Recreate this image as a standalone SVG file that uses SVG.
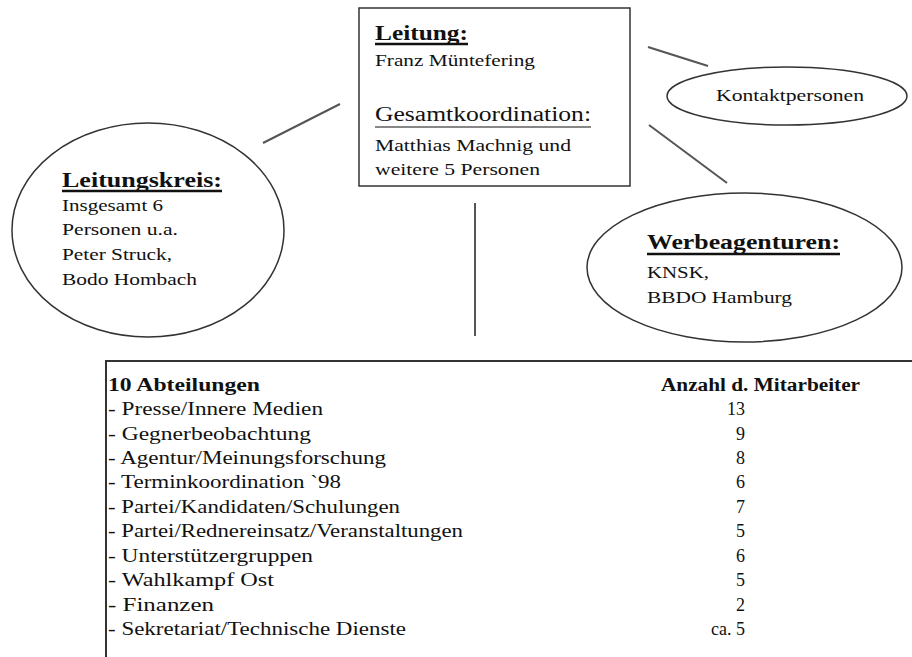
<svg xmlns="http://www.w3.org/2000/svg" width="912" height="657" viewBox="0 0 912 657">
<style>
text{font-family:"Liberation Serif","Times New Roman",serif;fill:#111}
.h{font-weight:bold;font-size:20px}
.t{font-size:17px}
.g{font-size:20px}
.r{font-size:18px}
.rb{font-size:18px;font-weight:bold}
.n{font-size:18px;text-anchor:end}
.shape{fill:#fff;stroke:#333;stroke-width:1.5}
.conn{stroke:#555;stroke-width:2;fill:none}
.ul{stroke:#111;stroke-width:2.5}
.ul1{stroke:#111;stroke-width:1.2}
</style>
<rect width="912" height="657" fill="#fff"/>
<g id="connectors">
<line class="conn" x1="263" y1="143" x2="340" y2="104"/>
<line class="conn" x1="648" y1="47" x2="708" y2="66"/>
<line class="conn" x1="649" y1="125" x2="727" y2="183"/>
<line class="conn" x1="475" y1="203" x2="475" y2="336"/>
</g>
<g id="leitung">
<rect class="shape" x="359" y="8" width="271" height="178"/>
<text class="h" x="375" y="40" textLength="93" lengthAdjust="spacingAndGlyphs">Leitung:</text>
<line class="ul" x1="375" y1="44" x2="468" y2="44"/>
<text class="t" x="375" y="66" textLength="160" lengthAdjust="spacingAndGlyphs">Franz Müntefering</text>
<text class="g" x="375" y="121" textLength="216" lengthAdjust="spacingAndGlyphs">Gesamtkoordination:</text>
<line class="ul1" x1="375" y1="127" x2="591" y2="127"/>
<text class="t" x="375" y="151" textLength="196" lengthAdjust="spacingAndGlyphs">Matthias Machnig und</text>
<text class="t" x="375" y="175" textLength="165" lengthAdjust="spacingAndGlyphs">weitere 5 Personen</text>
</g>
<g id="leitungskreis">
<ellipse class="shape" cx="148" cy="230" rx="136" ry="107"/>
<text class="h" x="62" y="187" textLength="160" lengthAdjust="spacingAndGlyphs">Leitungskreis:</text>
<line class="ul" x1="62" y1="191" x2="222" y2="191"/>
<text class="t" x="62" y="211" textLength="101" lengthAdjust="spacingAndGlyphs">Insgesamt 6</text>
<text class="t" x="62" y="235" textLength="116" lengthAdjust="spacingAndGlyphs">Personen u.a.</text>
<text class="t" x="62" y="260" textLength="110" lengthAdjust="spacingAndGlyphs">Peter Struck,</text>
<text class="t" x="62" y="285" textLength="135" lengthAdjust="spacingAndGlyphs">Bodo Hombach</text>
</g>
<g id="kontaktpersonen">
<ellipse class="shape" cx="787" cy="96" rx="120" ry="29"/>
<text class="t" x="716" y="101" textLength="148" lengthAdjust="spacingAndGlyphs">Kontaktpersonen</text>
</g>
<g id="werbeagenturen">
<ellipse class="shape" cx="744.5" cy="267.5" rx="157.5" ry="74.5"/>
<text class="h" x="647" y="249" textLength="193" lengthAdjust="spacingAndGlyphs">Werbeagenturen:</text>
<line class="ul" x1="647" y1="254" x2="840" y2="254"/>
<text class="t" x="647" y="278" textLength="62" lengthAdjust="spacingAndGlyphs">KNSK,</text>
<text class="t" x="647" y="303" textLength="145" lengthAdjust="spacingAndGlyphs">BBDO Hamburg</text>
</g>
<g id="abteilungen">
<rect x="106" y="361" width="820" height="320" fill="#fff" stroke="#333" stroke-width="2"/>
<text class="rb" x="108" y="391" textLength="152" lengthAdjust="spacingAndGlyphs">10 Abteilungen</text>
<text class="rb" x="661" y="391" textLength="199" lengthAdjust="spacingAndGlyphs">Anzahl d. Mitarbeiter</text>
<text class="r" x="108" y="415" textLength="215" lengthAdjust="spacingAndGlyphs">- Presse/Innere Medien</text>
<text class="r" x="108" y="440" textLength="203" lengthAdjust="spacingAndGlyphs">- Gegnerbeobachtung</text>
<text class="r" x="108" y="464" textLength="278" lengthAdjust="spacingAndGlyphs">- Agentur/Meinungsforschung</text>
<text class="r" x="108" y="488" textLength="233" lengthAdjust="spacingAndGlyphs">- Terminkoordination `98</text>
<text class="r" x="108" y="513" textLength="292" lengthAdjust="spacingAndGlyphs">- Partei/Kandidaten/Schulungen</text>
<text class="r" x="108" y="537" textLength="355" lengthAdjust="spacingAndGlyphs">- Partei/Rednereinsatz/Veranstaltungen</text>
<text class="r" x="108" y="562" textLength="205" lengthAdjust="spacingAndGlyphs">- Unterstützergruppen</text>
<text class="r" x="108" y="586" textLength="166" lengthAdjust="spacingAndGlyphs">- Wahlkampf Ost</text>
<text class="r" x="108" y="611" textLength="106" lengthAdjust="spacingAndGlyphs">- Finanzen</text>
<text class="r" x="108" y="635" textLength="298" lengthAdjust="spacingAndGlyphs">- Sekretariat/Technische Dienste</text>
<text class="n" x="745" y="415">13</text>
<text class="n" x="745" y="440">9</text>
<text class="n" x="745" y="464">8</text>
<text class="n" x="745" y="488">6</text>
<text class="n" x="745" y="513">7</text>
<text class="n" x="745" y="537">5</text>
<text class="n" x="745" y="562">6</text>
<text class="n" x="745" y="586">5</text>
<text class="n" x="745" y="611">2</text>
<text class="n" x="745" y="635">ca. 5</text>
</g>
</svg>
